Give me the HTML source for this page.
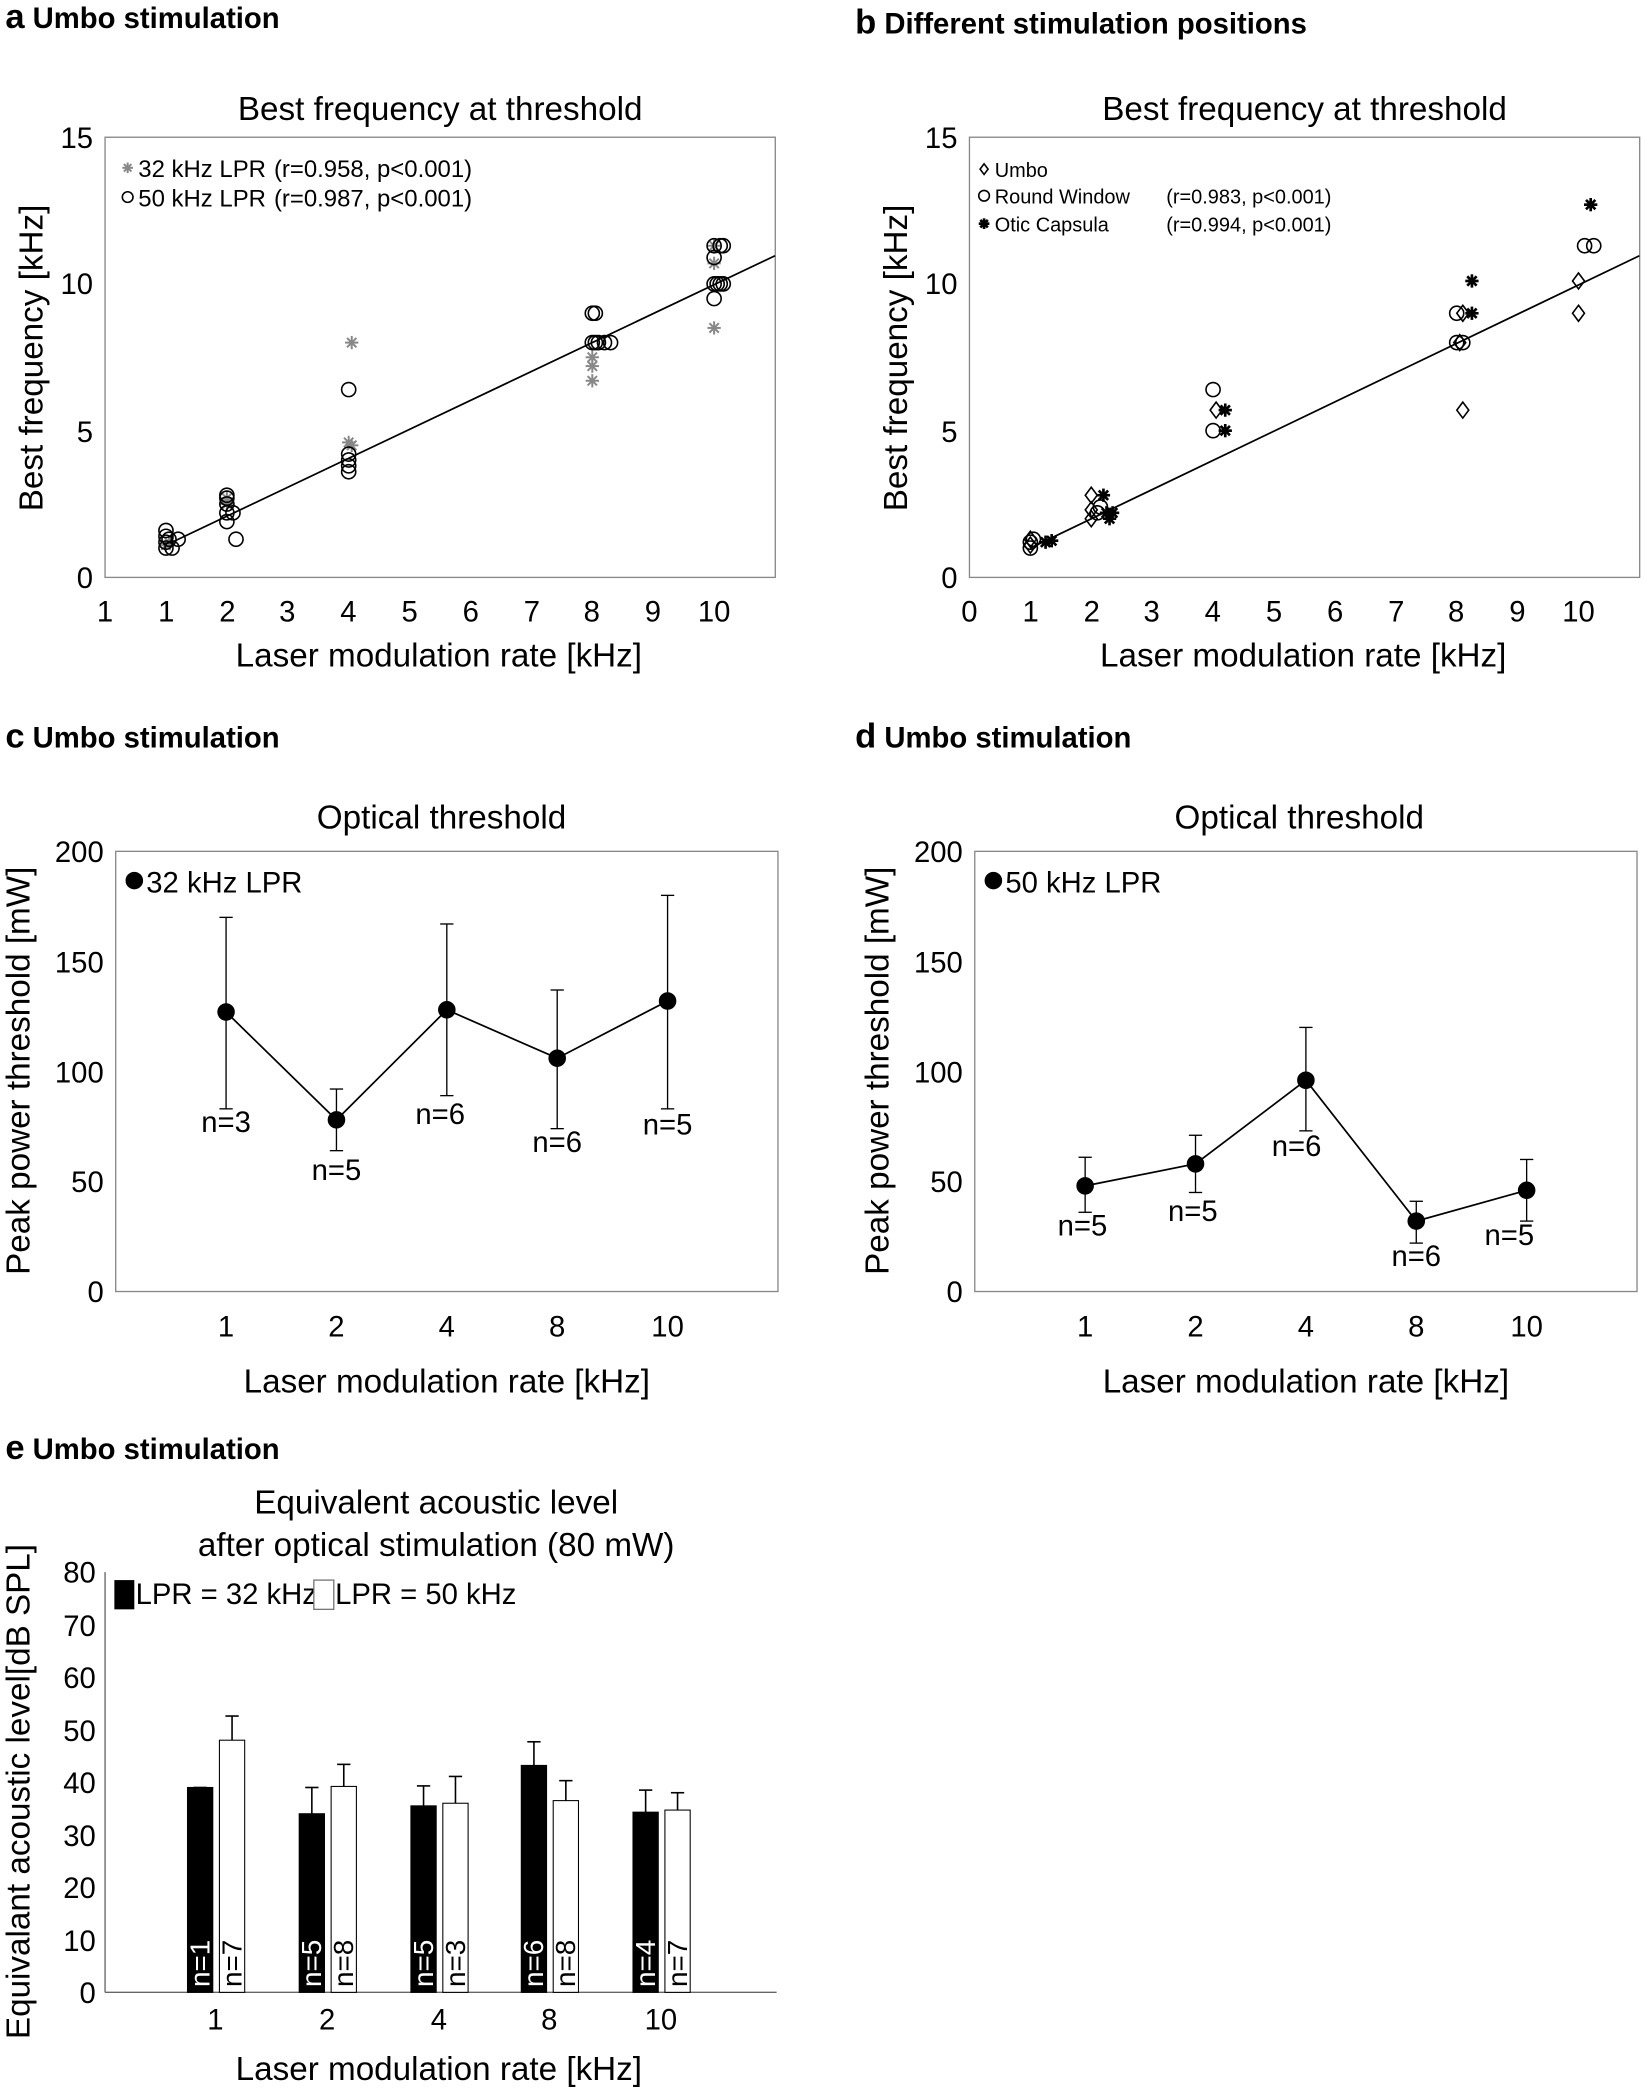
<!DOCTYPE html>
<html><head><meta charset="utf-8"><style>
html,body{margin:0;padding:0;background:#fff}
svg{display:block}
text{font-family:"Liberation Sans",Arial,sans-serif;fill:#000}
.h{font-weight:bold;font-size:22px}
.t{font-size:25px}
.k{font-size:22px}
.l{font-size:15px}
.lg{font-size:18px}
</style></head><body>
<svg id="s" width="1645" height="2091" viewBox="0 0 1237 1568" xmlns="http://www.w3.org/2000/svg">
<rect width="1237" height="1568" fill="#fff"/>
<text class="h" x="4" y="19"><tspan font-size="26">a</tspan> Umbo stimulation</text>
<text class="h" x="643" y="23"><tspan font-size="26">b</tspan> Different stimulation positions</text>
<text class="h" x="4" y="560"><tspan font-size="26">c</tspan> Umbo stimulation</text>
<text class="h" x="643" y="560"><tspan font-size="26">d</tspan> Umbo stimulation</text>
<text class="h" x="4" y="1095"><tspan font-size="26">e</tspan> Umbo stimulation</text>

<!-- Panel a -->
<text class="t" x="331" y="88" text-anchor="middle">Best frequency at threshold</text>
<rect x="79" y="101" width="504" height="331" fill="none" stroke="#888" stroke-width="1"/>
<g class="k" text-anchor="end"><text x="70" y="440">0</text><text x="70" y="330">5</text><text x="70" y="219">10</text><text x="70" y="109">15</text></g>
<g class="k" text-anchor="middle"><text x="79" y="465">1</text><text x="125" y="465">1</text><text x="171" y="465">2</text><text x="216" y="465">3</text><text x="262" y="465">4</text><text x="308" y="465">5</text><text x="354" y="465">6</text><text x="400" y="465">7</text><text x="445" y="465">8</text><text x="491" y="465">9</text><text x="537" y="465">10</text></g>
<text class="t" x="330" y="499" text-anchor="middle">Laser modulation rate [kHz]</text>
<text class="t" transform="translate(32,267) rotate(-90)" text-anchor="middle">Best frequency [kHz]</text>
<text class="lg" x="104" y="131">32 kHz LPR</text><text class="lg" x="206" y="131">(r=0.958, p&lt;0.001)</text>
<text class="lg" x="104" y="153">50 kHz LPR</text><text class="lg" x="206" y="153">(r=0.987, p&lt;0.001)</text>

<!-- Panel b -->
<text class="t" x="981" y="88" text-anchor="middle">Best frequency at threshold</text>
<rect x="729" y="101" width="504" height="331" fill="none" stroke="#888" stroke-width="1"/>
<g class="k" text-anchor="end"><text x="720" y="440">0</text><text x="720" y="330">5</text><text x="720" y="219">10</text><text x="720" y="109">15</text></g>
<g class="k" text-anchor="middle"><text x="729" y="465">0</text><text x="775" y="465">1</text><text x="821" y="465">2</text><text x="866" y="465">3</text><text x="912" y="465">4</text><text x="958" y="465">5</text><text x="1004" y="465">6</text><text x="1050" y="465">7</text><text x="1095" y="465">8</text><text x="1141" y="465">9</text><text x="1187" y="465">10</text></g>
<text class="t" x="980" y="499" text-anchor="middle">Laser modulation rate [kHz]</text>
<text class="t" transform="translate(682,267) rotate(-90)" text-anchor="middle">Best frequency [kHz]</text>
<text class="l" x="748" y="131">Umbo</text>
<text class="l" x="748" y="151">Round Window</text>
<text class="l" x="748" y="172">Otic Capsula</text>
<text class="l" x="877" y="151">(r=0.983, p&lt;0.001)</text>
<text class="l" x="877" y="172">(r=0.994, p&lt;0.001)</text>

<!-- Panel c -->
<text class="t" x="332" y="621" text-anchor="middle">Optical threshold</text>
<rect x="87" y="638" width="498" height="331" fill="none" stroke="#888"/>
<g class="k" text-anchor="end"><text x="78" y="977">0</text><text x="78" y="894">50</text><text x="78" y="812">100</text><text x="78" y="729">150</text><text x="78" y="646">200</text></g>
<g class="k" text-anchor="middle"><text x="170" y="1003">1</text><text x="253" y="1003">2</text><text x="336" y="1003">4</text><text x="419" y="1003">8</text><text x="502" y="1003">10</text></g>
<text class="t" x="336" y="1045" text-anchor="middle">Laser modulation rate [kHz]</text>
<text class="t" transform="translate(22,803) rotate(-90)" text-anchor="middle">Peak power threshold [mW]</text>
<text class="k" x="110" y="669">32 kHz LPR</text>
<g class="k" text-anchor="middle"><text x="170" y="849">n=3</text><text x="253" y="885">n=5</text><text x="331" y="843">n=6</text><text x="419" y="864">n=6</text><text x="502" y="851">n=5</text></g>

<!-- Panel d -->
<text class="t" x="977" y="621" text-anchor="middle">Optical threshold</text>
<rect x="733" y="638" width="498" height="331" fill="none" stroke="#888"/>
<g class="k" text-anchor="end"><text x="724" y="977">0</text><text x="724" y="894">50</text><text x="724" y="812">100</text><text x="724" y="729">150</text><text x="724" y="646">200</text></g>
<g class="k" text-anchor="middle"><text x="816" y="1003">1</text><text x="899" y="1003">2</text><text x="982" y="1003">4</text><text x="1065" y="1003">8</text><text x="1148" y="1003">10</text></g>
<text class="t" x="982" y="1045" text-anchor="middle">Laser modulation rate [kHz]</text>
<text class="t" transform="translate(668,803) rotate(-90)" text-anchor="middle">Peak power threshold [mW]</text>
<text class="k" x="756" y="669">50 kHz LPR</text>
<g class="k" text-anchor="middle"><text x="814" y="927">n=5</text><text x="897" y="916">n=5</text><text x="975" y="867">n=6</text><text x="1065" y="950">n=6</text><text x="1135" y="934">n=5</text></g>

<!-- Panel e -->
<text class="t" x="328" y="1136" text-anchor="middle">Equivalent acoustic level</text>
<text class="t" x="328" y="1168" text-anchor="middle">after optical stimulation (80 mW)</text>
<g class="k" text-anchor="end"><text x="72" y="1504">0</text><text x="72" y="1465">10</text><text x="72" y="1425">20</text><text x="72" y="1386">30</text><text x="72" y="1346">40</text><text x="72" y="1307">50</text><text x="72" y="1267">60</text><text x="72" y="1228">70</text><text x="72" y="1188">80</text></g>
<g class="k" text-anchor="middle"><text x="162" y="1524">1</text><text x="246" y="1524">2</text><text x="330" y="1524">4</text><text x="413" y="1524">8</text><text x="497" y="1524">10</text></g>
<text class="t" x="330" y="1562" text-anchor="middle">Laser modulation rate [kHz]</text>
<text class="t" transform="translate(22,1345) rotate(-90)" text-anchor="middle">Equivalant acoustic level[dB SPL]</text>
<text class="k" x="102" y="1204">LPR = 32 kHz</text>
<text class="k" x="252" y="1204">LPR = 50 kHz</text>
<g id="g"></g>
</svg>
<script>
const NS="http://www.w3.org/2000/svg",G=document.getElementById('g');
function el(t,a){const e=document.createElementNS(NS,t);for(const k in a)e.setAttribute(k,a[k]);G.appendChild(e);return e;}
function circ(x,y,r,f,s){el('circle',{cx:x,cy:y,r:r,fill:f||'none',stroke:s||'#000','stroke-width':1.2});}
function star(x,y,r,c,w){for(let i=0;i<4;i++){const a=i*Math.PI/4;el('line',{x1:x-r*Math.cos(a),y1:y-r*Math.sin(a),x2:x+r*Math.cos(a),y2:y+r*Math.sin(a),stroke:c,'stroke-width':w||1.5});}}
function diam(x,y,r){el('polygon',{points:`${x},${y-r} ${x+r*0.75},${y} ${x},${y+r} ${x-r*0.75},${y}`,fill:'none',stroke:'#000','stroke-width':1.2});}
const ax=v=>79+v*45.8, ay=v=>432-v*22.07;
el('line',{x1:ax(1),y1:ay(1.1),x2:ax(11),y2:ay(10.96),stroke:'#000','stroke-width':1.3});
[[2,2.7],[2,2.5],[4.05,8],[4,4.6],[4.05,4.5],[8,7.5],[8,7.2],[8,6.7],[10,10.7],[10,8.5],[10,11.3],[1.05,1.2],[1,1.1]].forEach(p=>star(ax(p[0]),ay(p[1]),5,'#888'));
[[1,1.6],[1,1.4],[1,1.2],[1,1.0],[1.05,1.3],[1.1,1.0],[1.2,1.3],[2,2.8],[2,2.7],[2,2.5],[2,2.2],[2,1.9],[2.1,2.2],[2.15,1.3],[4,6.4],[4,4.2],[4,4.0],[4,3.8],[4,3.6],[8,9.0],[8.05,9.0],[8,8.0],[8.05,8.0],[8.1,8.0],[8.2,8.0],[8.3,8.0],[10,11.3],[10.1,11.3],[10.15,11.3],[10,10.9],[10,10.0],[10.05,10.0],[10.1,10.0],[10.15,10.0],[10,9.5]].forEach(p=>circ(ax(p[0]),ay(p[1]),5.3));
star(96,124,4,'#888');circ(96,146,4);
const bx=v=>729+v*45.8;
el('line',{x1:bx(1),y1:ay(1.0),x2:bx(11),y2:ay(10.96),stroke:'#000','stroke-width':1.3});
[[1,1.1],[1,1.3],[2,2.8],[2,2.3],[2,2.0],[4.05,5.7],[8.1,9.0],[8.05,8.0],[8.1,5.7],[10,10.1],[10,9.0]].forEach(p=>diam(bx(p[0]),ay(p[1]),6));
[[1,1.0],[1,1.2],[1.05,1.3],[2.1,2.2],[2.15,2.4],[4,6.4],[4,5.0],[8,9.0],[8.1,8.0],[8,8.0],[10.1,11.3],[10.25,11.3]].forEach(p=>circ(bx(p[0]),ay(p[1]),5.3));
[[1.25,1.2],[1.35,1.25],[2.2,2.8],[2.25,2.2],[2.3,2.0],[2.35,2.2],[4.2,5.7],[4.2,5.0],[8.25,10.1],[8.25,9.0],[10.2,12.7]].forEach(p=>star(bx(p[0]),ay(p[1]),5,'#000',2));
diam(740,125,4);circ(740,145,4);star(740,166,4,'#000',2);
const cy=v=>969-v*1.655;
function lp(x0,vals){const xs=[1,2,3,4,5].map(i=>x0+i*83);
el('polyline',{points:vals.map((v,i)=>xs[i]+','+cy(v[0])).join(' '),fill:'none',stroke:'#000','stroke-width':1.3});
vals.forEach((v,i)=>{const x=xs[i];el('line',{x1:x,y1:cy(v[1]),x2:x,y2:cy(v[2]),stroke:'#000'});
[v[1],v[2]].forEach(q=>el('line',{x1:x-5,y1:cy(q),x2:x+5,y2:cy(q),stroke:'#000'}));circ(x,cy(v[0]),6,'#000');});}
lp(87,[[127,83,170],[78,64,92],[128,89,167],[106,74,137],[132,83,180]]);
lp(733,[[48,36,61],[58,45,71],[96,73,120],[32,22,41],[46,32,60]]);
circ(101,660,6,'#000');circ(747,660,6,'#000');
const ey=v=>1496-v*3.95;
el('line',{x1:79,y1:1496,x2:584,y2:1496,stroke:'#666'});el('line',{x1:79,y1:1180,x2:79,y2:1496,stroke:'#666'});
const cx=[162,246,330,413,497],blk=[[39,39],[34,39],[35.5,39.3],[43.2,47.7],[34.3,38.5]],wht=[[48,52.6],[39.2,43.4],[36,41.1],[36.5,40.3],[34.7,38]];
const nb=['n=1','n=5','n=5','n=6','n=4'],nw=['n=7','n=8','n=3','n=8','n=7'];
cx.forEach((c,i)=>{
 [[blk[i],c-21,'#000'],[wht[i],c+3,'#fff']].forEach(([v,x,f])=>{
  el('rect',{x:x,y:ey(v[0]),width:19,height:ey(0)-ey(v[0]),fill:f,stroke:'#000','stroke-width':0.8});
  const m=x+9.5;el('line',{x1:m,y1:ey(v[0]),x2:m,y2:ey(v[1]),stroke:'#000','stroke-width':1.2});el('line',{x1:m-5,y1:ey(v[1]),x2:m+5,y2:ey(v[1]),stroke:'#000','stroke-width':1.2});
 });
 [[nb[i],c-11.5,'#fff'],[nw[i],c+12.5,'#000']].forEach(([s,x,f])=>{const t=el('text',{transform:`translate(${x+7},1492) rotate(-90)`,style:'font-size:21px;fill:'+f});t.textContent=s;});
});
el('rect',{x:86,y:1186,width:15,height:22,fill:'#000'});el('rect',{x:236,y:1186,width:15,height:22,fill:'#fff',stroke:'#777'});
</script>
</body></html>
